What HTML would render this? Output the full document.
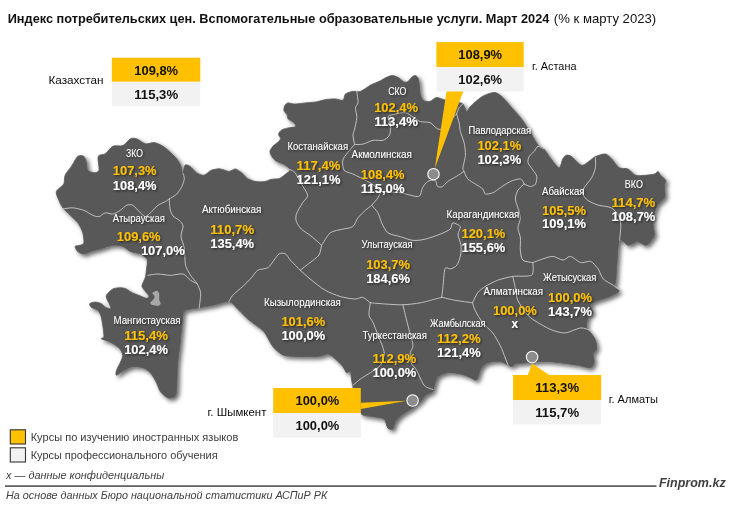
<!DOCTYPE html>
<html lang="ru"><head><meta charset="utf-8"><title>Индекс потребительских цен</title>
<style>
html,body{margin:0;padding:0;background:#fff}
body{width:731px;height:510px;overflow:hidden}
svg{display:block}
text{font-family:"Liberation Sans",sans-serif}
.lab{font-size:10.1px;fill:#fff}
.vg{font-size:12.4px;font-weight:bold;fill:#FFC000}
.vw{font-size:12.4px;font-weight:bold;fill:#fff}
.vb{font-size:12.4px;font-weight:bold;fill:#111}
.city{font-size:11.4px;fill:#0a0a0a}
.leg{font-size:11.4px;fill:#3a3a3a}
.note{font-size:10.9px;font-style:italic;fill:#404040}
</style></head><body>
<svg width="731" height="510" viewBox="0 0 731 510">
<defs>
<filter id="ms" x="-5%" y="-5%" width="112%" height="112%"><feDropShadow dx="2.5" dy="2.5" stdDeviation="2.3" flood-color="#000" flood-opacity="0.6"/></filter>
<filter id="ts" x="-10%" y="-20%" width="125%" height="150%"><feDropShadow dx="1.2" dy="1.2" stdDeviation="1.1" flood-color="#000" flood-opacity="0.6"/></filter>
</defs>
<rect width="731" height="510" fill="#fff"/>
<text x="7.7" y="23.4" font-size="13px" fill="#111"><tspan font-weight="bold" textLength="541.7" lengthAdjust="spacingAndGlyphs">Индекс потребительских цен. Вспомогательные образовательные услуги. Март 2024</tspan></text>
<text x="553.8" y="23.4" font-size="13px" fill="#111" textLength="102.4" lengthAdjust="spacingAndGlyphs">(% к марту 2023)</text>
<path d="M56.3 191.5 C57.0 189.4 62.6 186.2 63.8 184.0 C65.0 181.8 64.1 177.5 65.1 175.2 C66.1 172.9 69.7 168.9 71.4 166.4 C73.1 163.9 76.0 157.7 77.7 156.4 C79.4 155.1 82.7 155.6 83.9 156.4 C85.1 157.2 85.9 160.8 86.4 162.6 C86.9 164.4 86.7 168.9 87.7 170.2 C88.7 171.5 92.5 172.7 94.0 172.7 C95.5 172.7 98.4 172.4 99.0 170.2 C99.6 168.0 97.4 158.6 98.2 156.4 C99.0 154.2 103.4 155.1 105.3 153.8 C107.2 152.5 110.5 147.4 112.8 146.3 C115.1 145.2 120.5 146.6 122.8 145.6 C125.1 144.6 128.6 139.7 130.4 138.8 C132.2 137.9 134.6 138.1 136.6 138.8 C138.6 139.5 143.1 143.3 145.4 143.8 C147.7 144.3 151.9 142.3 154.2 142.6 C156.5 142.9 160.8 145.0 163.0 146.3 C165.2 147.6 168.7 150.9 170.5 152.6 C172.3 154.3 175.5 157.2 176.8 158.9 C178.1 160.6 179.8 163.1 180.6 165.1 C181.4 167.1 182.0 173.9 182.6 173.9 C183.2 173.9 184.1 166.1 185.1 165.1 C186.1 164.1 188.6 165.4 190.1 166.4 C191.6 167.4 194.6 171.5 196.4 172.7 C198.2 173.9 201.9 175.5 203.9 175.2 C205.9 174.9 209.2 171.0 211.4 170.2 C213.6 169.4 217.9 168.7 220.2 168.9 C222.5 169.1 227.0 171.4 229.0 171.4 C231.0 171.4 233.6 168.7 235.3 168.9 C237.0 169.1 240.3 171.7 241.9 173.0 C243.5 174.3 245.3 177.3 247.2 178.4 C249.1 179.5 253.6 181.2 255.9 181.6 C258.2 182.0 262.5 181.9 264.5 181.6 C266.5 181.3 268.9 179.8 270.9 179.4 C272.9 179.0 277.6 179.1 279.6 178.4 C281.6 177.7 284.2 175.3 285.6 174.1 C287.0 172.9 290.5 171.0 290.3 169.7 C290.1 168.4 285.8 165.5 283.9 164.4 C282.0 163.3 277.9 162.1 276.3 161.1 C274.7 160.1 272.9 158.1 272.0 156.8 C271.1 155.5 269.8 152.8 269.9 151.4 C270.0 150.0 272.0 147.3 273.1 146.0 C274.2 144.7 277.5 142.7 278.5 141.7 C279.5 140.7 280.6 139.5 280.6 138.5 C280.6 137.5 278.4 135.3 278.5 134.2 C278.6 133.1 280.3 130.8 281.7 129.9 C283.1 129.0 287.4 128.1 289.3 127.7 C291.2 127.3 295.1 127.3 295.7 126.6 C296.3 125.9 294.6 123.3 293.6 122.3 C292.6 121.3 289.1 120.1 288.2 119.1 C287.3 118.1 287.7 115.9 287.1 114.8 C286.5 113.7 284.2 111.8 283.9 110.5 C283.6 109.2 284.4 106.1 285.0 105.1 C285.6 104.1 286.9 103.0 288.2 102.9 C289.5 102.8 292.4 104.0 294.7 104.0 C297.0 104.0 302.5 103.2 305.4 102.9 C308.3 102.6 313.6 102.3 316.2 101.9 C318.8 101.5 322.2 100.1 324.8 99.7 C327.4 99.3 333.0 98.8 335.4 98.9 C337.8 99.0 341.7 100.9 343.0 100.2 C344.3 99.5 344.2 95.1 345.5 93.9 C346.8 92.7 351.0 91.7 353.0 91.4 C355.0 91.1 358.2 92.2 360.5 91.4 C362.8 90.6 368.0 86.5 370.6 85.1 C373.2 83.7 377.9 82.0 380.0 81.0 C382.1 80.0 384.3 78.2 386.0 77.5 C387.7 76.8 390.8 75.4 392.5 75.5 C394.2 75.6 397.5 77.1 399.0 78.0 C400.5 78.9 402.8 81.5 404.0 82.0 C405.2 82.5 406.9 82.2 408.0 81.5 C409.1 80.8 411.0 77.8 412.0 77.0 C413.0 76.2 414.6 75.2 415.5 75.5 C416.4 75.8 418.0 77.3 418.5 79.0 C419.0 80.7 419.2 85.9 419.5 88.0 C419.8 90.1 420.0 93.3 420.5 95.0 C421.0 96.7 422.2 99.6 423.5 100.5 C424.8 101.4 428.3 101.9 430.0 101.5 C431.7 101.1 434.5 97.7 436.5 97.5 C438.5 97.3 442.8 99.6 445.3 100.2 C447.8 100.8 452.7 101.5 455.0 102.0 C457.3 102.5 461.4 102.6 462.9 103.9 C464.4 105.2 465.6 111.2 466.6 111.5 C467.6 111.8 468.6 108.2 470.4 106.4 C472.2 104.6 478.1 99.4 480.4 97.7 C482.7 96.0 486.0 94.6 488.0 93.9 C490.0 93.2 493.5 92.1 495.5 92.6 C497.5 93.1 501.0 95.9 503.0 97.7 C505.0 99.5 508.3 103.7 510.6 106.4 C512.9 109.1 517.9 114.2 520.6 117.7 C523.3 121.2 528.3 129.1 530.6 132.8 C532.9 136.5 536.4 143.2 538.2 145.3 C540.0 147.4 542.3 147.2 543.9 148.9 C545.5 150.6 548.2 155.2 550.2 157.7 C552.2 160.2 557.3 167.6 559.0 167.8 C560.7 168.0 561.7 160.7 562.7 159.0 C563.7 157.3 565.3 155.5 566.5 155.2 C567.7 154.9 570.0 155.5 571.5 156.5 C573.0 157.5 576.3 161.5 577.8 162.7 C579.3 163.9 581.1 165.6 582.8 165.3 C584.5 165.0 588.7 161.4 590.4 160.2 C592.1 159.0 593.4 157.3 595.4 156.5 C597.4 155.7 603.2 153.7 605.4 154.0 C607.6 154.3 609.9 157.2 611.7 159.0 C613.5 160.8 617.0 166.5 619.2 167.8 C621.4 169.1 625.8 168.0 628.0 169.0 C630.2 170.0 633.2 174.5 635.5 175.3 C637.8 176.1 643.1 175.5 645.6 175.3 C648.1 175.1 652.7 174.5 654.4 174.0 C656.1 173.5 657.3 171.3 658.1 171.5 C658.9 171.7 659.6 174.1 660.6 175.3 C661.6 176.5 665.2 179.0 665.7 180.3 C666.2 181.6 664.5 184.0 664.4 185.3 C664.3 186.6 664.7 188.4 664.7 190.0 C664.7 191.6 665.7 195.6 664.7 197.6 C663.7 199.6 658.7 202.4 657.2 205.1 C655.7 207.8 653.9 214.7 653.4 217.7 C652.9 220.7 653.2 225.5 653.4 227.7 C653.6 229.9 654.9 232.5 654.7 234.0 C654.5 235.5 653.4 237.5 652.2 239.0 C651.0 240.5 647.9 245.0 645.9 245.3 C643.9 245.6 639.4 241.5 637.1 241.5 C634.8 241.5 630.6 245.5 628.3 245.3 C626.0 245.1 621.0 237.9 619.5 240.2 C618.0 242.5 617.5 257.4 617.0 262.8 C616.5 268.2 616.1 277.2 615.8 280.4 C615.5 283.6 614.0 285.4 614.5 286.7 C615.0 288.0 619.5 289.4 619.5 290.4 C619.5 291.4 616.3 293.2 614.5 294.2 C612.7 295.2 608.2 297.1 605.7 298.0 C603.2 298.9 597.5 300.4 595.5 301.3 C593.5 302.2 590.8 303.6 590.5 305.1 C590.2 306.6 593.3 310.9 593.0 312.6 C592.7 314.3 588.8 315.6 588.0 317.6 C587.2 319.6 586.2 325.5 586.7 327.7 C587.2 329.9 590.5 332.2 591.7 333.9 C592.9 335.6 594.8 338.2 595.5 340.2 C596.2 342.2 597.1 347.2 596.8 349.0 C596.5 350.8 593.3 352.3 593.0 354.0 C592.7 355.7 594.5 359.7 594.2 361.5 C593.9 363.3 592.7 367.3 590.5 367.8 C588.3 368.3 581.9 366.0 577.9 365.3 C573.9 364.6 564.7 363.3 560.4 362.8 C556.1 362.3 549.7 361.5 545.3 361.5 C540.9 361.5 531.7 362.5 527.7 362.8 C523.7 363.1 517.4 363.5 515.2 364.0 C513.0 364.5 513.4 366.9 511.4 366.6 C509.4 366.3 503.3 362.0 500.1 361.5 C496.9 361.0 490.1 362.0 487.6 362.8 C485.1 363.6 482.8 365.5 481.3 367.8 C479.8 370.1 477.9 378.7 476.5 380.0 C475.1 381.3 472.7 378.5 470.6 377.7 C468.5 376.9 463.5 374.7 460.5 374.0 C457.5 373.3 451.0 372.4 448.0 372.7 C445.0 373.0 439.7 374.7 437.9 376.5 C436.1 378.3 434.9 384.5 434.2 386.5 C433.5 388.5 434.1 390.3 432.9 391.5 C431.7 392.7 426.9 394.1 425.4 395.3 C423.9 396.5 423.3 398.6 421.6 400.3 C419.9 402.0 415.3 406.1 412.8 407.9 C410.3 409.7 405.1 412.3 402.8 414.1 C400.5 415.9 396.6 419.7 395.3 421.7 C394.0 423.7 393.8 428.4 392.8 429.2 C391.8 430.0 388.9 429.2 387.7 427.9 C386.5 426.6 386.0 420.6 384.0 419.1 C382.0 417.6 375.7 417.3 372.7 416.6 C369.7 415.9 363.8 416.3 361.4 414.1 C359.0 411.9 356.1 403.7 355.0 400.0 C353.9 396.3 353.4 389.2 352.9 386.6 C352.4 384.0 351.9 382.3 351.6 380.3 C351.3 378.3 351.1 372.5 350.4 371.5 C349.7 370.5 347.6 373.5 346.6 372.8 C345.6 372.1 344.3 368.4 342.8 366.5 C341.3 364.6 337.3 360.6 335.3 358.9 C333.3 357.2 330.1 354.2 327.8 353.9 C325.5 353.6 321.7 356.1 317.7 356.4 C313.7 356.7 302.2 356.6 297.7 356.4 C293.2 356.2 287.0 356.4 283.8 355.2 C280.6 354.0 276.0 350.0 273.8 347.7 C271.6 345.4 268.8 339.7 267.5 337.6 C266.2 335.5 265.4 333.2 264.1 331.7 C262.8 330.2 260.0 328.3 257.8 326.6 C255.6 324.9 250.5 321.4 247.8 319.1 C245.1 316.8 240.2 311.4 237.7 309.1 C235.2 306.8 232.2 302.0 228.9 301.5 C225.6 301.0 216.6 304.5 212.6 305.3 C208.6 306.1 202.5 307.1 198.8 307.8 C195.1 308.5 187.1 309.3 185.0 310.3 C182.9 311.3 183.6 311.1 183.0 315.1 C182.4 319.1 181.2 333.5 180.5 340.2 C179.8 346.9 178.0 358.6 177.5 365.3 C177.0 372.0 177.1 386.2 176.7 390.4 C176.3 394.6 175.4 395.7 174.2 396.7 C173.0 397.7 169.7 398.6 167.9 397.9 C166.1 397.2 161.9 393.7 160.4 391.7 C158.9 389.7 157.9 385.4 156.6 382.9 C155.3 380.4 152.2 374.8 150.4 372.8 C148.6 370.8 145.1 368.6 142.8 367.8 C140.5 367.0 135.3 366.3 132.8 366.6 C130.3 366.9 126.2 369.1 124.0 370.3 C121.8 371.5 117.5 375.3 116.5 375.3 C115.5 375.3 116.0 372.0 116.5 370.3 C117.0 368.6 119.4 364.8 120.2 362.8 C121.0 360.8 122.9 357.3 122.7 355.3 C122.5 353.3 120.8 349.5 119.0 347.7 C117.2 345.9 111.2 342.7 108.9 341.5 C106.6 340.3 102.1 339.6 101.4 338.9 C100.7 338.2 103.7 338.2 103.9 336.4 C104.1 334.6 103.1 327.8 102.7 325.1 C102.3 322.4 101.7 318.4 101.1 316.4 C100.5 314.4 99.4 311.6 98.1 310.4 C96.8 309.2 92.4 308.2 91.3 307.3 C90.2 306.4 89.3 304.3 89.8 303.6 C90.3 302.9 93.6 302.1 95.1 302.1 C96.6 302.1 99.8 302.9 101.1 303.6 C102.4 304.3 103.6 306.3 104.9 307.0 C106.2 307.7 110.4 309.3 110.9 308.8 C111.4 308.3 109.5 304.2 109.0 303.0 C108.5 301.8 107.5 300.8 107.2 299.8 C106.9 298.8 105.7 296.7 106.4 295.3 C107.1 293.9 110.7 290.2 112.4 289.2 C114.1 288.2 117.5 287.8 119.2 287.7 C120.9 287.6 123.7 287.9 125.3 288.5 C126.9 289.1 129.3 291.3 131.3 292.3 C133.3 293.3 138.4 295.2 140.4 296.0 C142.4 296.8 145.3 298.3 146.4 298.3 C147.5 298.3 149.2 297.0 149.0 296.0 C148.8 295.0 145.8 292.0 144.9 290.7 C144.0 289.4 142.0 287.6 141.9 286.2 C141.8 284.8 143.6 281.5 144.1 280.2 C144.6 278.9 145.3 277.8 145.6 276.4 C145.9 275.0 146.2 271.9 146.4 269.6 C146.6 267.3 147.9 261.6 147.1 259.5 C146.3 257.4 142.6 255.1 140.4 254.0 C138.2 252.9 132.7 252.5 130.4 251.5 C128.1 250.5 125.1 247.2 122.8 246.4 C120.5 245.6 115.8 244.9 112.8 245.2 C109.8 245.5 103.2 248.1 100.2 248.9 C97.2 249.7 92.4 250.8 90.2 251.5 C88.0 252.2 85.6 254.0 83.9 254.0 C82.2 254.0 78.9 252.5 77.7 251.5 C76.5 250.5 74.8 247.2 75.1 246.4 C75.4 245.6 79.0 245.7 80.2 245.2 C81.4 244.7 83.6 244.4 83.9 242.7 C84.2 241.0 83.5 235.3 82.7 232.6 C81.9 229.9 79.4 224.9 77.7 222.6 C76.0 220.3 72.1 217.1 70.1 215.1 C68.1 213.1 64.1 209.5 62.6 207.5 C61.1 205.5 59.6 202.1 58.8 200.0 C58.0 197.9 55.6 193.6 56.3 191.5 Z" fill="#595959" stroke="#595959" stroke-width="0.8" stroke-linejoin="round" filter="url(#ms)"/>
<path d="M152.4 293.0 C152.7 292.3 156.1 290.6 157.0 290.7 C157.9 290.8 158.9 292.6 159.2 293.8 C159.5 295.0 159.0 298.5 159.2 299.8 C159.4 301.1 160.8 302.8 160.7 303.6 C160.6 304.4 159.6 305.6 158.5 305.8 C157.4 306.0 153.5 305.5 152.4 305.1 C151.3 304.7 150.0 303.6 150.2 302.8 C150.4 302.0 153.3 299.9 153.9 299.0 C154.5 298.1 154.7 296.8 154.5 296.0 C154.3 295.2 152.1 293.7 152.4 293.0 Z" fill="#A8A8A8"/>
<g fill="none" stroke="#C6C6C6" stroke-width="0.95" stroke-linejoin="round" stroke-linecap="round">
<path d="M62.6 209.1 C63.9 208.9 69.8 207.6 72.6 207.8 C75.4 208.0 81.2 209.3 83.9 210.3 C86.6 211.3 90.7 214.5 92.7 215.3 C94.7 216.1 97.3 216.9 99.0 216.6 C100.7 216.3 103.5 213.1 105.3 212.8 C107.1 212.5 110.8 214.4 112.8 214.1 C114.8 213.8 118.5 211.5 120.3 210.3 C122.1 209.1 124.9 206.0 126.6 205.3 C128.3 204.6 131.1 204.3 132.9 205.3 C134.7 206.3 138.7 211.3 140.4 212.8 C142.1 214.3 143.9 216.8 145.4 216.6 C146.9 216.4 150.0 213.1 151.7 211.6 C153.4 210.1 156.2 206.6 158.0 205.3 C159.8 204.0 164.0 202.3 165.5 201.5 C167.0 200.7 168.8 199.3 169.3 199.0"/>
<path d="M169.3 199.0 C170.3 198.3 175.1 195.7 176.8 194.0 C178.5 192.3 180.8 188.5 181.8 186.5 C182.8 184.5 184.1 180.6 184.3 178.9 C184.5 177.2 183.2 174.2 183.0 173.5"/>
<path d="M169.3 199.0 C169.4 200.3 169.5 206.7 170.0 209.0 C170.5 211.3 171.8 214.5 173.0 216.0 C174.2 217.5 178.0 219.1 179.3 220.4 C180.6 221.7 182.9 223.9 183.1 226.0 C183.3 228.1 180.8 233.6 181.0 236.5 C181.2 239.4 183.7 244.2 184.3 248.0 C184.9 251.8 184.8 261.7 185.6 265.3 C186.4 268.9 189.1 272.9 190.6 275.3 C192.1 277.7 195.6 281.2 196.9 283.5 C198.2 285.8 200.3 289.7 200.6 292.9 C200.9 296.1 199.4 305.8 199.2 307.8"/>
<path d="M147.9 275.3 C149.2 275.1 155.0 274.0 158.0 274.0 C161.0 274.0 167.2 275.3 170.5 275.3 C173.8 275.3 180.4 273.3 183.1 274.0 C185.8 274.7 188.8 279.0 190.6 280.3 C192.4 281.6 196.1 283.1 196.9 283.5"/>
<path d="M290.3 169.7 C290.9 170.1 293.6 170.8 295.1 172.7 C296.6 174.6 299.7 181.0 301.4 184.0 C303.1 187.0 307.5 192.8 307.7 195.3 C307.9 197.8 304.1 200.3 302.6 202.8 C301.1 205.3 297.2 211.6 296.4 214.1 C295.6 216.6 295.7 219.6 296.4 221.6 C297.1 223.6 299.6 227.3 301.4 229.1 C303.2 230.9 308.0 233.7 310.2 235.4 C312.4 237.1 316.2 240.4 317.7 241.7 C319.2 243.0 321.0 245.0 321.5 245.5"/>
<path d="M321.5 245.5 C321.2 246.8 320.5 252.7 319.0 255.0 C317.5 257.3 312.5 260.6 310.0 262.6 C307.5 264.6 301.6 269.2 300.3 270.2"/>
<path d="M300.3 270.2 C299.0 268.9 292.4 262.3 290.4 260.1 C288.4 257.9 286.9 254.6 285.4 253.8 C283.9 253.0 280.6 253.0 279.1 253.8 C277.6 254.6 275.6 258.2 274.1 260.1 C272.6 262.0 270.1 266.4 267.9 267.7 C265.7 269.0 260.0 268.9 257.8 270.2 C255.6 271.5 253.5 275.5 251.5 277.7 C249.5 279.9 245.2 284.2 242.7 286.5 C240.2 288.8 234.5 293.3 232.7 295.3 C230.9 297.3 229.4 300.7 228.9 301.5"/>
<path d="M300.3 270.2 C301.6 271.4 306.7 276.2 310.0 278.9 C313.3 281.6 321.1 287.9 325.1 290.2 C329.1 292.5 336.2 295.3 340.2 296.5 C344.2 297.7 352.2 298.9 355.2 299.0 C358.2 299.1 360.7 296.8 362.7 297.3 C364.7 297.8 369.3 302.1 370.3 302.8"/>
<path d="M370.3 302.8 C372.3 303.0 381.0 303.7 385.3 304.0 C389.6 304.3 398.2 305.0 402.9 304.8 C407.6 304.6 416.2 303.6 420.5 302.8 C424.8 302.0 432.7 299.7 435.5 299.0 C438.3 298.3 441.0 297.5 441.8 297.3"/>
<path d="M370.3 302.8 C370.1 304.5 368.6 312.7 369.0 315.3 C369.4 317.9 371.8 319.9 373.0 322.5 C374.2 325.1 376.7 331.7 378.0 335.1 C379.3 338.5 382.2 345.0 383.0 347.7 C383.8 350.4 384.5 352.9 384.2 355.2 C383.9 357.5 382.3 362.9 380.5 365.2 C378.7 367.5 373.1 370.9 370.4 372.7 C367.7 374.5 362.7 377.3 360.4 379.0 C358.1 380.7 353.9 384.5 352.9 385.3"/>
<path d="M402.9 304.8 C403.2 306.2 404.6 311.9 405.4 315.3 C406.2 318.7 408.2 326.4 409.2 330.4 C410.2 334.4 412.9 342.5 413.0 345.5 C413.1 348.5 410.6 350.3 410.3 352.6 C410.0 354.9 410.2 360.4 411.0 362.7 C411.8 365.0 414.9 367.2 416.6 370.2 C418.3 373.2 421.9 382.7 424.1 385.3 C426.3 387.9 431.7 388.9 432.9 389.5"/>
<path d="M441.8 297.3 C442.0 295.7 442.8 288.5 443.1 285.2 C443.4 281.9 444.0 275.0 444.3 272.7 C444.6 270.4 444.8 268.2 445.6 267.7 C446.4 267.2 449.1 269.2 450.6 268.9 C452.1 268.6 455.6 266.9 456.9 265.1 C458.2 263.3 460.1 257.8 460.6 255.1 C461.1 252.4 461.3 247.7 461.0 245.0 C460.7 242.3 458.1 237.5 458.0 235.0 C457.9 232.5 460.9 228.2 460.2 226.6 C459.5 225.0 454.0 222.6 452.7 222.9 C451.4 223.2 451.9 227.6 450.2 229.1 C448.5 230.6 443.4 232.9 440.1 234.2 C436.8 235.5 428.7 238.4 425.1 239.2 C421.5 240.0 416.4 240.7 413.1 240.4 C409.8 240.1 403.8 237.7 400.5 236.7 C397.2 235.7 390.5 234.7 388.0 232.9 C385.5 231.1 383.0 225.6 381.7 222.9 C380.4 220.2 379.2 215.1 377.9 212.8 C376.6 210.5 372.5 206.3 371.7 205.3"/>
<path d="M321.5 245.5 C322.7 243.8 327.4 235.1 330.2 232.9 C333.0 230.7 339.8 229.9 342.8 229.1 C345.8 228.3 350.8 228.1 352.8 226.6 C354.8 225.1 356.2 220.1 357.9 217.9 C359.6 215.7 363.6 212.0 365.4 210.3 C367.2 208.6 370.9 206.0 371.7 205.3"/>
<path d="M371.7 205.3 C372.5 204.3 376.7 199.6 377.9 197.8 C379.1 196.0 380.6 192.3 381.0 191.5"/>
<path d="M381.0 191.5 C379.8 190.5 374.7 185.8 372.0 184.0 C369.3 182.2 363.0 179.0 360.4 177.7 C357.8 176.4 355.0 174.9 352.8 173.9 C350.6 172.9 345.3 172.0 344.0 170.2 C342.7 168.4 342.3 162.4 342.8 160.1 C343.3 157.8 346.2 154.7 347.8 152.6 C349.4 150.5 353.6 145.6 354.5 144.5"/>
<path d="M354.5 144.5 C354.3 143.2 353.0 136.9 353.0 135.0 C353.0 133.1 353.8 132.6 354.3 130.3 C354.8 128.0 356.6 120.7 356.8 117.7 C357.0 114.7 355.3 109.7 355.5 107.7 C355.7 105.7 357.8 104.9 358.0 102.7 C358.2 100.5 357.0 92.9 356.8 91.4"/>
<path d="M354.5 144.5 C355.6 144.4 360.5 144.7 363.0 144.1 C365.5 143.5 370.4 140.8 373.1 140.3 C375.8 139.8 380.9 141.0 383.1 140.3 C385.3 139.6 388.4 137.3 389.4 135.3 C390.4 133.3 390.8 127.8 390.6 125.3 C390.4 122.8 387.4 118.0 388.1 116.5 C388.8 115.0 393.4 114.5 395.7 114.0 C398.0 113.5 403.4 112.3 405.7 112.7 C408.0 113.1 411.1 115.8 413.0 117.0 C414.9 118.2 417.9 120.7 420.2 121.5 C422.5 122.3 427.9 121.7 430.2 122.7 C432.5 123.7 435.8 128.3 437.8 129.0 C439.8 129.7 443.3 129.3 445.3 127.8 C447.3 126.3 451.3 119.5 452.8 117.7 C454.3 115.9 456.1 114.5 456.6 114.0"/>
<path d="M456.6 114.0 C456.9 113.2 458.3 109.0 459.1 107.7 C459.9 106.4 462.4 104.4 462.9 103.9"/>
<path d="M456.6 114.0 C456.9 115.2 458.6 120.4 459.1 122.7 C459.6 125.0 459.7 128.8 460.4 131.5 C461.1 134.2 463.4 139.6 464.1 142.8 C464.8 146.0 465.6 152.1 465.4 155.4 C465.2 158.7 463.1 165.8 462.9 167.9 C462.7 170.0 463.9 170.9 464.0 171.4"/>
<path d="M381.0 191.5 C383.6 191.7 395.5 192.1 400.5 192.8 C405.5 193.5 415.6 197.2 418.5 196.5 C421.4 195.8 421.4 189.7 422.6 187.7 C423.8 185.7 425.9 182.5 427.6 181.5 C429.3 180.5 433.8 179.5 435.1 180.2 C436.4 180.9 436.6 185.7 437.6 186.5 C438.6 187.3 441.3 187.2 442.6 186.5 C443.9 185.8 445.9 182.8 447.7 181.5 C449.5 180.2 454.2 177.7 456.4 176.4 C458.6 175.1 463.0 172.1 464.0 171.4"/>
<path d="M464.0 171.4 C464.5 172.4 466.2 177.2 467.7 178.9 C469.2 180.6 473.3 182.7 475.3 184.0 C477.3 185.3 481.5 187.7 482.8 189.0 C484.1 190.3 484.0 193.5 485.3 194.0 C486.6 194.5 490.8 193.6 492.8 192.8 C494.8 192.0 498.1 189.2 500.4 187.7 C502.7 186.2 507.7 182.7 510.4 181.5 C513.1 180.3 518.6 178.6 520.4 178.9 C522.2 179.2 523.7 183.3 524.2 184.0"/>
<path d="M524.2 184.0 C525.0 184.3 529.0 186.5 530.5 186.5 C532.0 186.5 534.7 185.3 535.5 184.0 C536.3 182.7 537.1 178.2 536.8 176.4 C536.5 174.6 534.2 172.0 533.0 170.2 C531.8 168.4 528.5 164.4 528.0 162.6 C527.5 160.8 528.4 157.9 529.2 156.4 C530.0 154.9 533.0 152.6 534.2 151.3 C535.4 150.0 536.7 146.6 538.0 146.3 C539.3 146.0 543.1 148.6 543.9 148.9"/>
<path d="M524.2 184.0 C523.4 184.8 519.1 188.2 517.9 190.2 C516.7 192.2 515.4 196.7 515.4 199.0 C515.4 201.3 517.2 205.3 517.9 207.8 C518.6 210.3 520.4 215.2 520.4 217.9 C520.4 220.6 517.9 225.2 517.9 227.9 C517.9 230.6 520.1 234.9 520.4 237.9 C520.7 240.9 520.0 247.1 520.3 250.1 C520.6 253.1 521.1 258.4 522.8 260.1 C524.5 261.8 531.6 262.3 532.9 262.6"/>
<path d="M532.9 262.6 C534.2 262.1 540.2 259.7 542.9 258.9 C545.6 258.1 550.3 256.2 553.0 256.4 C555.7 256.6 560.7 260.1 563.0 260.1 C565.3 260.1 568.2 256.1 570.5 256.4 C572.8 256.7 577.9 261.9 580.6 262.6 C583.3 263.3 588.3 260.6 590.6 261.4 C592.9 262.2 596.4 266.6 598.1 268.9 C599.8 271.2 601.2 276.7 603.2 278.9 C605.2 281.1 611.0 283.7 613.2 285.2 C615.4 286.7 618.7 289.5 619.5 290.2"/>
<path d="M532.9 262.6 C532.7 264.3 534.3 273.4 531.6 275.2 C528.9 277.0 517.3 275.7 512.8 276.4 C508.3 277.1 501.4 278.9 497.7 280.2 C494.0 281.5 487.9 284.8 485.2 286.5 C482.5 288.2 479.4 290.5 477.7 292.7 C476.0 294.9 473.3 301.5 472.6 302.8"/>
<path d="M472.6 302.8 C470.3 302.5 459.2 301.0 455.1 300.3 C451.0 299.6 443.6 297.7 441.8 297.3"/>
<path d="M512.8 276.4 C513.1 277.9 514.6 284.5 515.3 287.7 C516.0 290.9 516.1 296.6 517.8 300.3 C519.5 304.0 524.8 312.1 527.8 315.3 C530.8 318.5 537.1 322.1 540.4 324.1 C543.7 326.1 549.6 329.2 552.9 330.4 C556.2 331.6 561.8 333.2 565.5 332.9 C569.2 332.6 577.3 328.2 580.6 327.9 C583.9 327.6 589.3 330.1 590.6 330.4"/>
<path d="M472.6 302.8 C472.9 303.8 473.8 307.6 475.1 310.3 C476.4 313.0 480.4 319.9 482.7 322.9 C485.0 325.9 490.4 329.9 492.7 332.9 C495.0 335.9 498.5 342.2 500.2 345.5 C501.9 348.8 504.3 355.4 505.3 358.0 C506.3 360.6 507.6 364.1 508.0 365.0"/>
<path d="M595.4 157.7 C595.4 159.0 595.9 165.1 595.4 167.8 C594.9 170.5 593.1 175.1 591.6 177.8 C590.1 180.5 585.3 185.6 584.1 187.8 C582.9 190.0 582.3 192.4 582.8 194.1 C583.3 195.8 585.7 198.9 587.8 200.4 C589.9 201.9 595.1 204.1 598.2 205.1 C601.3 206.1 608.1 206.3 610.8 207.6 C613.5 208.9 617.0 212.8 618.3 215.1 C619.6 217.4 620.6 221.9 620.8 225.2 C621.0 228.5 619.7 238.2 619.5 240.2"/>
</g>
<path d="M446.6 91 L463.4 91 L434.8 168.5 Z" fill="#FFC000"/>
<path d="M360.8 402.8 L360.8 409.1 L406.8 400.8 Z" fill="#FFC000"/>
<path d="M527.7 375.2 L549.7 375.2 L532.1 363.5 Z" fill="#FFC000"/>
<rect x="111.8" y="57.7" width="88.5" height="24.1" fill="#FFC000"/><rect x="111.8" y="81.8" width="88.5" height="24.0" fill="#F2F2F2"/><text class="vb" x="134.3" y="74.8" textLength="43.8" lengthAdjust="spacingAndGlyphs">109,8%</text><text class="vb" x="134.3" y="98.8" textLength="43.8" lengthAdjust="spacingAndGlyphs">115,3%</text>
<rect x="436.4" y="42.1" width="87.3" height="25.0" fill="#FFC000"/><rect x="436.4" y="67.1" width="87.3" height="24.4" fill="#F2F2F2"/><text class="vb" x="458.3" y="58.7" textLength="43.8" lengthAdjust="spacingAndGlyphs">108,9%</text><text class="vb" x="458.3" y="84.1" textLength="43.8" lengthAdjust="spacingAndGlyphs">102,6%</text>
<rect x="273.2" y="388.0" width="87.6" height="25.0" fill="#FFC000"/><rect x="273.2" y="413.0" width="87.6" height="24.7" fill="#F2F2F2"/><text class="vb" x="295.5" y="405.3" textLength="43.8" lengthAdjust="spacingAndGlyphs">100,0%</text><text class="vb" x="295.5" y="430.3" textLength="43.8" lengthAdjust="spacingAndGlyphs">100,0%</text>
<rect x="513.0" y="375.0" width="88.2" height="25.1" fill="#FFC000"/><rect x="513.0" y="400.1" width="88.2" height="24.3" fill="#F2F2F2"/><text class="vb" x="535.3" y="391.7" textLength="43.8" lengthAdjust="spacingAndGlyphs">113,3%</text><text class="vb" x="535.3" y="416.8" textLength="43.8" lengthAdjust="spacingAndGlyphs">115,7%</text>
<circle cx="433.5" cy="174.2" r="5.7" fill="#8C8C8C" stroke="#fff" stroke-width="1.1"/>
<circle cx="412.6" cy="400.5" r="5.7" fill="#8C8C8C" stroke="#fff" stroke-width="1.1"/>
<circle cx="532.1" cy="357.0" r="5.7" fill="#8C8C8C" stroke="#fff" stroke-width="1.1"/>
<text class="city" x="48.4" y="84.0" textLength="55.1" lengthAdjust="spacingAndGlyphs">Казахстан</text>
<text class="city" x="532.1" y="70.0" textLength="44.4" lengthAdjust="spacingAndGlyphs">г. Астана</text>
<text class="city" x="207.6" y="415.9" textLength="58.8" lengthAdjust="spacingAndGlyphs">г. Шымкент</text>
<text class="city" x="608.8" y="403.2" textLength="49.1" lengthAdjust="spacingAndGlyphs">г. Алматы</text>
<g filter="url(#ts)">
<text class="lab" x="126.1" y="157.0" textLength="16.8" lengthAdjust="spacingAndGlyphs">ЗКО</text>
<text class="lab" x="112.8" y="222.3" textLength="52.1" lengthAdjust="spacingAndGlyphs">Атырауская</text>
<text class="lab" x="201.9" y="213.3" textLength="59.5" lengthAdjust="spacingAndGlyphs">Актюбинская</text>
<text class="lab" x="113.5" y="324.1" textLength="67.1" lengthAdjust="spacingAndGlyphs">Мангистауская</text>
<text class="lab" x="287.4" y="150.1" textLength="60.7" lengthAdjust="spacingAndGlyphs">Костанайская</text>
<text class="lab" x="388.2" y="95.4" textLength="18.3" lengthAdjust="spacingAndGlyphs">СКО</text>
<text class="lab" x="351.5" y="158.1" textLength="60.4" lengthAdjust="spacingAndGlyphs">Акмолинская</text>
<text class="lab" x="468.5" y="134.1" textLength="62.6" lengthAdjust="spacingAndGlyphs">Павлодарская</text>
<text class="lab" x="446.6" y="218.3" textLength="72.8" lengthAdjust="spacingAndGlyphs">Карагандинская</text>
<text class="lab" x="361.5" y="248.0" textLength="51.1" lengthAdjust="spacingAndGlyphs">Улытауская</text>
<text class="lab" x="264.0" y="305.8" textLength="76.8" lengthAdjust="spacingAndGlyphs">Кызылординская</text>
<text class="lab" x="362.5" y="338.5" textLength="64.4" lengthAdjust="spacingAndGlyphs">Туркестанская</text>
<text class="lab" x="429.9" y="326.8" textLength="55.6" lengthAdjust="spacingAndGlyphs">Жамбылская</text>
<text class="lab" x="483.5" y="295.1" textLength="59.6" lengthAdjust="spacingAndGlyphs">Алматинская</text>
<text class="lab" x="543.1" y="280.7" textLength="53.4" lengthAdjust="spacingAndGlyphs">Жетысуская</text>
<text class="lab" x="542.1" y="194.6" textLength="42.4" lengthAdjust="spacingAndGlyphs">Абайская</text>
<text class="lab" x="624.8" y="188.3" textLength="18.1" lengthAdjust="spacingAndGlyphs">ВКО</text>
<text class="vg" x="112.8" y="175.3" textLength="43.8" lengthAdjust="spacingAndGlyphs">107,3%</text><text class="vw" x="112.8" y="190.0" textLength="43.8" lengthAdjust="spacingAndGlyphs">108,4%</text>
<text class="vg" x="116.8" y="241.4" textLength="43.8" lengthAdjust="spacingAndGlyphs">109,6%</text><text class="vw" x="140.9" y="255.4" textLength="43.8" lengthAdjust="spacingAndGlyphs">107,0%</text>
<text class="vg" x="210.3" y="234.0" textLength="43.8" lengthAdjust="spacingAndGlyphs">110,7%</text><text class="vw" x="210.3" y="248.0" textLength="43.8" lengthAdjust="spacingAndGlyphs">135,4%</text>
<text class="vg" x="124.2" y="340.2" textLength="43.8" lengthAdjust="spacingAndGlyphs">115,4%</text><text class="vw" x="124.2" y="354.0" textLength="43.8" lengthAdjust="spacingAndGlyphs">102,4%</text>
<text class="vg" x="296.6" y="170.1" textLength="43.8" lengthAdjust="spacingAndGlyphs">117,4%</text><text class="vw" x="296.6" y="184.0" textLength="43.8" lengthAdjust="spacingAndGlyphs">121,1%</text>
<text class="vg" x="374.2" y="112.1" textLength="43.8" lengthAdjust="spacingAndGlyphs">102,4%</text><text class="vw" x="374.2" y="126.1" textLength="43.8" lengthAdjust="spacingAndGlyphs">113,4%</text>
<text class="vg" x="360.8" y="178.9" textLength="43.8" lengthAdjust="spacingAndGlyphs">108,4%</text><text class="vw" x="360.8" y="193.0" textLength="43.8" lengthAdjust="spacingAndGlyphs">115,0%</text>
<text class="vg" x="477.4" y="150.1" textLength="43.8" lengthAdjust="spacingAndGlyphs">102,1%</text><text class="vw" x="477.4" y="164.2" textLength="43.8" lengthAdjust="spacingAndGlyphs">102,3%</text>
<text class="vg" x="461.5" y="238.4" textLength="43.8" lengthAdjust="spacingAndGlyphs">120,1%</text><text class="vw" x="461.5" y="252.4" textLength="43.8" lengthAdjust="spacingAndGlyphs">155,6%</text>
<text class="vg" x="366.2" y="269.4" textLength="43.8" lengthAdjust="spacingAndGlyphs">103,7%</text><text class="vw" x="366.2" y="283.4" textLength="43.8" lengthAdjust="spacingAndGlyphs">184,6%</text>
<text class="vg" x="281.4" y="325.8" textLength="43.8" lengthAdjust="spacingAndGlyphs">101,6%</text><text class="vw" x="281.4" y="339.8" textLength="43.8" lengthAdjust="spacingAndGlyphs">100,0%</text>
<text class="vg" x="372.5" y="363.0" textLength="43.8" lengthAdjust="spacingAndGlyphs">112,9%</text><text class="vw" x="372.5" y="376.6" textLength="43.8" lengthAdjust="spacingAndGlyphs">100,0%</text>
<text class="vg" x="436.9" y="343.3" textLength="43.8" lengthAdjust="spacingAndGlyphs">112,2%</text><text class="vw" x="436.9" y="357.3" textLength="43.8" lengthAdjust="spacingAndGlyphs">121,4%</text>
<text class="vg" x="493.0" y="314.8" textLength="43.8" lengthAdjust="spacingAndGlyphs">100,0%</text>
<text class="vg" x="548.1" y="301.8" textLength="43.8" lengthAdjust="spacingAndGlyphs">100,0%</text><text class="vw" x="548.1" y="315.8" textLength="43.8" lengthAdjust="spacingAndGlyphs">143,7%</text>
<text class="vg" x="542.1" y="214.7" textLength="43.8" lengthAdjust="spacingAndGlyphs">105,5%</text><text class="vw" x="542.1" y="228.3" textLength="43.8" lengthAdjust="spacingAndGlyphs">109,1%</text>
<text class="vg" x="611.5" y="206.6" textLength="43.8" lengthAdjust="spacingAndGlyphs">114,7%</text><text class="vw" x="611.5" y="220.7" textLength="43.8" lengthAdjust="spacingAndGlyphs">108,7%</text>
<text class="vw" x="511.4" y="327.9" textLength="6.6" lengthAdjust="spacingAndGlyphs">x</text>
</g>
<rect x="10.3" y="429.8" width="15.2" height="14.2" fill="#FFC000" stroke="#333" stroke-width="1.1"/>
<rect x="10.3" y="447.8" width="15.2" height="14.2" fill="#F2F2F2" stroke="#333" stroke-width="1.1"/>
<text class="leg" x="30.7" y="440.8" textLength="207.6" lengthAdjust="spacingAndGlyphs">Курсы по изучению иностранных языков</text>
<text class="leg" x="30.7" y="458.8" textLength="186.9" lengthAdjust="spacingAndGlyphs">Курсы профессионального обучения</text>
<text class="note" x="6" y="479.3" textLength="158.2" lengthAdjust="spacingAndGlyphs">x — данные конфиденциальны</text>
<rect x="5" y="485.3" width="651.5" height="1.6" fill="#505050"/>
<text class="note" x="6" y="499.4" textLength="321.4" lengthAdjust="spacingAndGlyphs">На основе данных Бюро национальной статистики АСПиР РК</text>
<text x="658.9" y="486.5" font-size="13.2px" font-weight="bold" font-style="italic" fill="#404040" textLength="66.8" lengthAdjust="spacingAndGlyphs">Finprom.kz</text>
</svg></body></html>
